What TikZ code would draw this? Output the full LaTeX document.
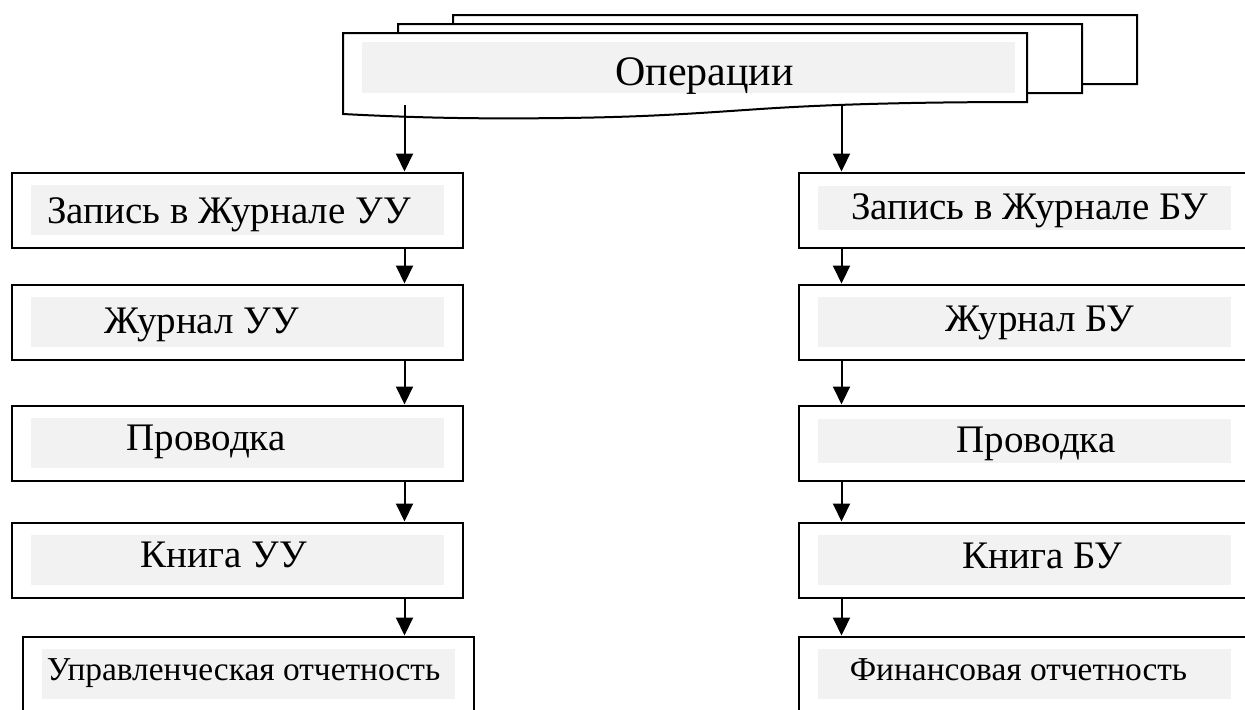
\documentclass[tikz,border=0pt]{standalone}
\usepackage{fontspec}
\setmainfont{Liberation Serif}
\usetikzlibrary{positioning,arrows.meta}

\begin{document}
\begin{tikzpicture}[x=0.5pt,y=-0.5pt]
      \tikzstyle{stage}=[rectangle, draw=black, line width=1pt, fill=white, minimum width=225.5pt, minimum height=37.5pt, inner sep=0pt]
      \tikzstyle{tint}=[rectangle, fill=black!5, minimum width=206.5pt, minimum height=25pt, inner sep=0pt]
      \tikzstyle{sheet}=[draw=black, line width=1pt, fill=white]
      \tikzstyle{lbl}=[anchor=base, inner sep=0pt, font=\fontsize{19.5}{23}\selectfont]
      \tikzstyle{lblsmall}=[anchor=base, inner sep=0pt, font=\fontsize{16.7}{20}\selectfont]
      \tikzstyle{connect}=[-{Triangle[width=8.5pt,length=9pt]}, line width=1pt]

      \path[use as bounding box, clip] (0,0) rectangle (1245,709);

      % stacked document
      \foreach \dx/\dy in {110/-18, 55/-9, 0/0}
        \draw[sheet, shift={(\dx,\dy)}] (343,114) -- (343,33) -- (1027,33) -- (1027,102)
          .. controls (900,102) and (820,105) .. (760,109)
          .. controls (700,113) and (650,117) .. (563,118)
          .. controls (480,119) and (420,118) .. (343,114) -- cycle;
      \node[tint, minimum width=326.5pt, minimum height=25.5pt] (opsf) at (688.5,67.5) {};
      \node[lbl, font=\fontsize{21}{25}\selectfont] (ops) at (704.5,85) {Операции};
      \coordinate (opsl) at (404.5,105);
      \coordinate (opsr) at (841.5,105);

      % management accounting
      \node[stage] (zuu) at (237.5,210) {};
      \node[stage, below=17.5pt of zuu] (juu) {};
      \node[stage, below=22pt of juu] (puu) {};
      \node[stage, below=20pt of puu] (kuu) {};
      \node[stage, below=18.5pt of kuu, xshift=5.5pt] (ouu) {};

      % financial accounting
      \node[stage] (zbu) at (1024.5,210) {};
      \node[stage, below=17.5pt of zbu] (jbu) {};
      \node[stage, below=22pt of jbu] (pbu) {};
      \node[stage, below=20pt of pbu] (kbu) {};
      \node[stage, below=18.5pt of kbu] (obu) {};

      \node[tint] (zuuf) at (zuu) {};
      \node[tint] (juuf) at (juu) {};
      \node[tint] (puuf) at (puu) {};
      \node[tint] (kuuf) at (kuu) {};
      \node[tint] (ouuf) at (ouu) {};
      \node[tint, minimum height=22pt, yshift=1.25pt] (zbuf) at (zbu) {};
      \node[tint] (jbuf) at (jbu) {};
      \node[tint, minimum height=22pt, yshift=1.25pt] (pbuf) at (pbu) {};
      \node[tint] (kbuf) at (kbu) {};
      \node[tint] (obuf) at (obu) {};

      \node[lbl] (zuut) at (229,223) {Запись в Журнале УУ};
      \node[lbl] (juut) at (201.5,333) {Журнал УУ};
      \node[lbl] (puut) at (206,450) {Проводка};
      \node[lbl] (kuut) at (224,567) {Книга УУ};
      \node[lblsmall] (ouut) at (243.5,680) {Управленческая отчетность};
      \node[lbl] (zbut) at (1029.5,219) {Запись в Журнале БУ};
      \node[lbl] (jbut) at (1040,331) {Журнал БУ};
      \node[lbl] (pbut) at (1036,452) {Проводка};
      \node[lbl] (kbut) at (1042.5,568) {Книга БУ};
      \node[lblsmall] (obut) at (1018.5,680) {Финансовая отчетность};

      \draw[connect] (opsl) -- (opsl |- zuu.north);
      \draw[connect] (opsr) -- (opsr |- zbu.north);
      \foreach \a/\b in {zuu/juu, juu/puu, puu/kuu, kuu/ouu}
        \draw[connect] (\a.south -| opsl) -- (\b.north -| opsl);
      \foreach \a/\b in {zbu/jbu, jbu/pbu, pbu/kbu, kbu/obu}
        \draw[connect] (\a.south -| opsr) -- (\b.north -| opsr);
\end{tikzpicture}
\end{document}
